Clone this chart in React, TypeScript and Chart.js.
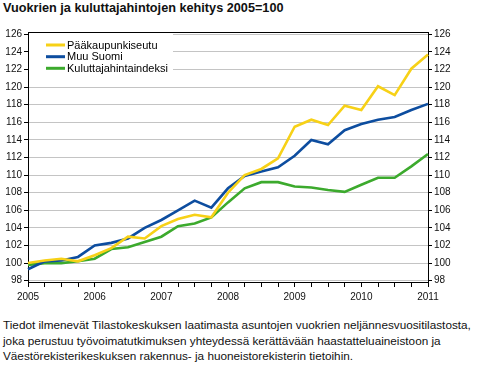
import React, { useEffect, useRef } from "react";
import { Chart, registerables } from "chart.js";

Chart.register(...registerables);

const quarterLabels: string[] = [
  "2005", "", "", "",
  "2006", "", "", "",
  "2007", "", "", "",
  "2008", "", "", "",
  "2009", "", "", "",
  "2010", "", "", "",
  "2011",
];

const seriesNames = ["Pääkaupunkiseutu", "Muu Suomi", "Kuluttajahintaindeksi"];

const paakaupunkiseutu = [
  100.0, 100.3, 100.5, 100.2, 100.9, 101.7, 103.0, 102.8,
  104.2, 105.0, 105.5, 105.2, 108.0, 110.0, 110.7, 111.9,
  115.5, 116.3, 115.7, 117.9, 117.4, 120.1, 119.1, 122.1, 123.7,
];
const muuSuomi = [
  99.3, 100.2, 100.3, 100.7, 102.0, 102.3, 102.8, 104.0,
  104.9, 106.0, 107.1, 106.3, 108.5, 109.9, 110.4, 110.9,
  112.2, 114.0, 113.5, 115.1, 115.8, 116.3, 116.6, 117.4, 118.1,
];
const kuluttajahintaindeksi = [
  99.8, 100.0, 100.0, 100.2, 100.5, 101.6, 101.8, 102.4,
  103.0, 104.2, 104.5, 105.2, 106.9, 108.5, 109.2, 109.2,
  108.7, 108.6, 108.3, 108.1, 108.9, 109.7, 109.7, 111.0, 112.4,
];

const yTicks = [98, 100, 102, 104, 106, 108, 110, 112, 114, 116, 118, 120, 122, 124, 126];

const colors = ["#f7d117", "#0d4d9f", "#3caa2d"];
const FONT = "'Liberation Sans', Arial, sans-serif";

const title = "Vuokrien ja kuluttajahintojen kehitys 2005=100";
const footLines = [
  "Tiedot ilmenevät Tilastokeskuksen laatimasta asuntojen vuokrien neljännesvuositilastosta,",
  "joka perustuu työvoimatutkimuksen yhteydessä kerättävään haastatteluaineistoon ja",
  "Väestörekisterikeskuksen rakennus- ja huoneistorekisterin tietoihin.",
];

export default function App() {
  const ref = useRef<HTMLCanvasElement | null>(null);

  useEffect(() => {
    if (!ref.current) return;
    const legendPlugin = {
      id: "customLegend",
      beforeDatasetsDraw(chart: any) {
        const { ctx, chartArea } = chart;
        ctx.save();
        ctx.fillStyle = "#ffffff";
        ctx.fillRect(chartArea.left + 1, chartArea.top + 1, 172 - chartArea.left, 74 - chartArea.top);
        const ys = [45, 56.7, 68.3];
        ctx.font = `11px ${FONT}`;
        ctx.textBaseline = "middle";
        ctx.textAlign = "left";
        seriesNames.forEach((n, i) => {
          ctx.strokeStyle = colors[i];
          ctx.lineWidth = 3;
          ctx.beginPath();
          ctx.moveTo(46, ys[i]);
          ctx.lineTo(65, ys[i]);
          ctx.stroke();
          ctx.fillStyle = "#000";
          ctx.fillText(n, 67, ys[i] + 0.5);
        });
        ctx.restore();
      },
      afterDraw(chart: any) {
        const { ctx, chartArea } = chart;
        ctx.save();
        ctx.strokeStyle = "#000";
        ctx.lineWidth = 1;
        ctx.beginPath();
        ctx.moveTo(chartArea.left, chartArea.top + 0.5);
        ctx.lineTo(chartArea.right, chartArea.top + 0.5);
        ctx.stroke();
        ctx.restore();
      },
    };

    const yCommon = (pos: "left" | "right", width: number) => ({
      type: "linear" as const,
      position: pos,
      min: 97.85,
      max: 126.27,
      afterBuildTicks: (scale: any) => {
        scale.ticks = yTicks.map((v) => ({ value: v }));
      },
      afterFit: (scale: any) => {
        scale.width = width;
      },
      grid: {
        drawOnChartArea: pos === "left",
        color: "#c4c4c4",
        lineWidth: 1,
        tickColor: "#000",
        tickLength: 4,
      },
      border: { color: "#000", width: 1 },
      ticks: {
        color: "#111",
        font: { family: FONT, size: 10 },
        padding: 2,
        callback: (v: any) => String(v),
      },
    });

    const chart = new Chart(ref.current, {
      type: "line",
      data: {
        labels: quarterLabels,
        datasets: [paakaupunkiseutu, muuSuomi, kuluttajahintaindeksi].map((d, i) => ({
          label: seriesNames[i],
          data: d,
          borderColor: colors[i],
          backgroundColor: colors[i],
          borderWidth: 2.6,
          pointRadius: 0,
          tension: 0,
          yAxisID: "y",
        })),
      },
      options: {
        animation: false,
        responsive: false,
        devicePixelRatio: 1,
        layout: { padding: { top: 32, left: 0, right: 0, bottom: 0 } },
        plugins: { legend: { display: false }, tooltip: { enabled: false } },
        scales: {
          x: {
            type: "category",
            offset: false,
            afterFit: (scale: any) => {
              scale.height = 28;
            },
            grid: {
              drawOnChartArea: false,
              tickColor: "#000",
              tickLength: 5,
            },
            border: { color: "#000", width: 1 },
            ticks: {
              autoSkip: false,
              maxRotation: 0,
              color: "#111",
              font: { family: FONT, size: 10 },
              padding: 4,
            },
          },
          y: yCommon("left", 28),
          y2: { ...yCommon("right", 52), display: true },
        },
      },
      plugins: [legendPlugin],
    });
    return () => chart.destroy();
  }, []);

  return (
    <div
      style={{
        position: "fixed",
        left: 0,
        top: 0,
        width: 480,
        height: 369,
        background: "#fff",
        overflow: "hidden",
        fontFamily: FONT,
      }}
    >
      <div
        style={{
          position: "absolute",
          left: 3,
          top: 1,
          fontSize: 12.7,
          fontWeight: "bold",
          whiteSpace: "nowrap",
          color: "#111",
        }}
      >
        {title}
      </div>
      <canvas
        ref={ref}
        width={480}
        height={310}
        style={{ position: "absolute", left: 0, top: 0, width: 480, height: 310 }}
      />
      <div
        style={{
          position: "absolute",
          left: 3,
          top: 317,
          fontSize: 11.75,
          lineHeight: "15.7px",
          whiteSpace: "nowrap",
          color: "#111",
        }}
      >
        {footLines.map((l, i) => (
          <div key={i}>{l}</div>
        ))}
      </div>
    </div>
  );
}
